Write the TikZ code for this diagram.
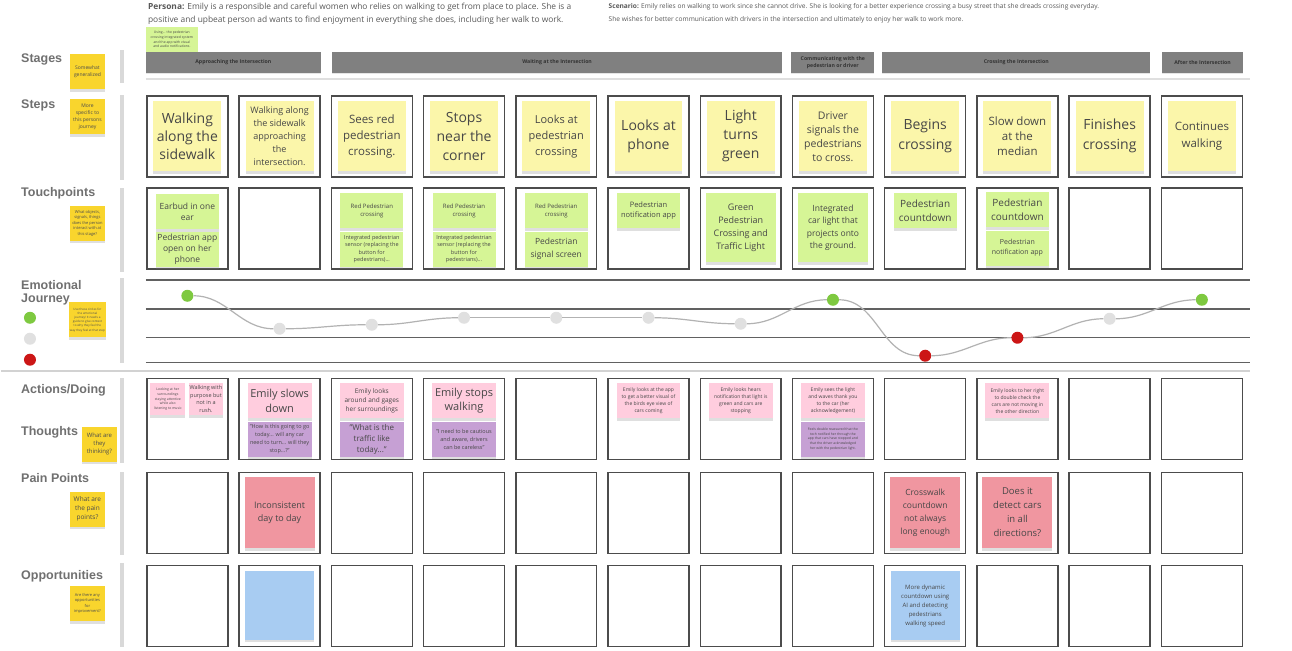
\documentclass[tikz,border=0pt]{standalone}
\usepackage{fontspec}
\setmainfont{Open Sans}
\newfontfamily\lblfont{Liberation Sans}
\usetikzlibrary{positioning,shadows}
\definecolor{stepyel}{RGB}{251,246,170}
\definecolor{tpgreen}{RGB}{214,245,150}
\definecolor{actpink}{RGB}{255,205,222}
\definecolor{thinkvio}{RGB}{198,160,212}
\definecolor{painred}{RGB}{240,150,160}
\definecolor{oppblue}{RGB}{168,204,242}
\definecolor{hintyel}{RGB}{249,213,45}
\definecolor{egreen}{RGB}{126,201,64}
\definecolor{egray}{RGB}{224,224,224}
\definecolor{ered}{RGB}{204,22,22}
\definecolor{lblgray}{RGB}{112,112,112}
\newcommand\fs[2]{\fontsize{#1}{#2}\selectfont}

\begin{document}
\begin{tikzpicture}[x=1pt,y=-1pt,
  cell/.style={draw=black!70,line width=1.5pt,minimum width=81pt,minimum height=81pt,inner sep=0pt},
  note/.style={inner sep=1pt,align=center,text=black!72,
    drop shadow={shadow xshift=0pt,shadow yshift=-2.5pt,opacity=0.25}},
  stepnote/.style={note,fill=stepyel,minimum width=68pt,minimum height=70pt},
  tpnote/.style={note,fill=tpgreen,minimum width=63pt,minimum height=35pt,font=\fs{8.5}{11}},
  tpbig/.style={note,fill=tpgreen,minimum width=70pt,minimum height=69pt,font=\fs{8.5}{12.5}},
  actnote/.style={note,fill=actpink,minimum width=64pt,minimum height=35pt,font=\fs{5}{7}},
  thinknote/.style={note,fill=thinkvio,minimum width=64pt,minimum height=35pt,font=\fs{5.5}{8}},
  painnote/.style={note,fill=painred,minimum width=70pt,minimum height=71pt,font=\fs{9}{13.5}},
  oppnote/.style={note,fill=oppblue,minimum width=69pt,minimum height=69pt,font=\fs{6}{9}},
  hintnote/.style={note,fill=hintyel,text=black!70,minimum width=35pt,minimum height=35pt,font=\fs{5}{7}},
  stagebar/.style={fill=gray,minimum height=21pt,inner sep=0pt,align=center,text=black!80,
    font=\bfseries\fs{5.2}{7},drop shadow={shadow xshift=0pt,shadow yshift=-1.5pt,opacity=0.2}},
  rowlabel/.style={anchor=west,inner sep=0pt,align=left,text=lblgray,font=\lblfont\bfseries\fs{12.5}{13}},
  emo/.style={circle,minimum size=12pt,inner sep=0pt},
  journey/.style={gray!60,line width=1.2pt}]
  \fill[white] (0,0) rectangle (1292,651);

  % persona y escenario
  \node[anchor=north west,inner sep=0pt,align=left,text=black!65,font=\fs{8.4}{13}] (persona) at (147,3)
    {\textbf{Persona:} Emily is a responsible and careful women who relies on walking to get from place to place. She is a\\
     positive and upbeat person ad wants to find enjoyment in everything she does, including her walk to work.};
  \node[anchor=north west,inner sep=0pt,align=left,text=black!65,font=\fs{6.6}{13}] (scenario) at (608,3)
    {\textbf{Scenario:} Emily relies on walking to work since she cannot drive. She is looking for a better experience crossing a busy street that she dreads crossing everyday.\\
     She wishes for better communication with drivers in the intersection and ultimately to enjoy her walk to work more.};

  % barras grises de la izquierda y lineas
  \foreach \a/\b in {50/83,95/180,188/272,278/363,378/463,472/555,563/647}
    \fill[gray!30] (119,\a) rectangle (123,\b);
  \draw[gray!25,line width=2pt] (145,79) -- (1250,79);
  \draw[gray!35,line width=2pt] (0,371) -- (1250,371);

  % etapas
  \node[stagebar,minimum width=175pt] (sg1) at (232.5,62.5) {Approaching the Intersection};
  \node[stagebar,minimum width=451pt] (sg2) at (556.5,62.5) {Waiting at the Intersection};
  \node[stagebar,minimum width=83pt] (sg3) at (832.5,62.5) {Communicating with the\\pedestrian or driver};
  \node[stagebar,minimum width=268pt] (sg4) at (1016,62.5) {Crossing the Intersection};
  \node[stagebar,minimum width=81pt] (sg5) at (1202.5,62.5) {After the Intersection};
  \node[note,fill=tpgreen,minimum width=52pt,minimum height=25pt,font=\fs{3.4}{4.6}] (usage) at (171,39.5)
    {Using... the pedestrian\\crossing integrated system\\and the app with visual\\and audio notifications.};

  % etiquetas de filas
  \node[rowlabel] (lstages) at (20,60) {Stages};
  \node[rowlabel] (lsteps) at (20,106) {Steps};
  \node[rowlabel] (ltouch) at (20,193) {Touchpoints};
  \node[rowlabel,anchor=north west] (lemo) at (20,280) {Emotional\\Journey};
  \node[rowlabel] (lact) at (20,391) {Actions/Doing};
  \node[rowlabel] (lthink) at (20,433) {Thoughts};
  \node[rowlabel] (lpain) at (20,478) {Pain Points};
  \node[rowlabel] (lopp) at (20,577) {Opportunities};
  \node[emo,fill=egreen] (lg1) at (29,318) {};
  \node[emo,fill=egray] (lg2) at (29,339) {};
  \node[emo,fill=ered] (lg3) at (29,360) {};

  \node[hintnote] (h1) at (86.5,72) {Somewhat\\generalized};
  \node[hintnote] (h2) at (86.5,117) {More\\specific to\\this persons\\journey};
  \node[hintnote,font=\fs{4}{5.5}] (h3) at (86.5,223.5) {What objects,\\signals, things\\does the person\\interact with at\\this stage?};
  \node[hintnote,font=\fs{3}{4.2}] (h4) at (86.5,320) {Use these circles for\\the emotional\\journey! It needs a\\guide to give context\\to why they feel the\\way they feel at that step};
  \node[hintnote,font=\fs{6}{8}] (h5) at (98.5,444.5) {What are\\they\\thinking?};
  \node[hintnote,font=\fs{6.5}{9}] (h6) at (86.5,509.5) {What are\\the pain\\points?};
  \node[hintnote,font=\fs{4}{5.5}] (h7) at (86.5,604) {Are there any\\opportunities\\for\\improvement?};

  % celdas
  \foreach \rw/\y in {st/136.5,tp/228.5,ac/419.5,pp/513.5,op/606.5}
    \foreach \c in {1,...,12}
      \node[cell] (\rw\c) at ({186.5+92.3*(\c-1)},\y) {};

  % pasos
  \node[stepnote,font=\fs{14}{18},below=6pt of st1.north] (s1) {Walking\\along the\\sidewalk};
  \node[stepnote,font=\fs{9}{13},below=6pt of st2.north] (s2) {Walking along\\the sidewalk\\approaching\\the\\intersection.};
  \node[stepnote,font=\fs{11.5}{16},below=6pt of st3.north] (s3) {Sees red\\pedestrian\\crossing.};
  \node[stepnote,font=\fs{14}{19},below=6pt of st4.north] (s4) {Stops\\near the\\corner};
  \node[stepnote,font=\fs{11}{16},below=6pt of st5.north] (s5) {Looks at\\pedestrian\\crossing};
  \node[stepnote,font=\fs{14}{19},below=6pt of st6.north] (s6) {Looks at\\phone};
  \node[stepnote,font=\fs{14}{19},below=6pt of st7.north] (s7) {Light\\turns\\green};
  \node[stepnote,font=\fs{10.5}{14},below=6pt of st8.north] (s8) {Driver\\signals the\\pedestrians\\to cross.};
  \node[stepnote,font=\fs{14}{20},below=6pt of st9.north] (s9) {Begins\\crossing};
  \node[stepnote,font=\fs{11.5}{15},below=6pt of st10.north] (s10) {Slow down\\at the\\median};
  \node[stepnote,font=\fs{14}{20},below=6pt of st11.north] (s11) {Finishes\\crossing};
  \node[stepnote,font=\fs{11.5}{17},below=6pt of st12.north] (s12) {Continues\\walking};

  % touchpoints
  \node[tpnote,below=7pt of tp1.north] (t1a) {Earbud in one\\ear};
  \node[tpnote,below=2pt of t1a] (t1b) {Pedestrian app\\open on her\\phone};
  \node[tpnote,font=\fs{6}{8},below=6pt of tp3.north] (t3a) {Red Pedestrian\\crossing};
  \node[tpnote,font=\fs{5.5}{7.5},below=3pt of t3a] (t3b) {Integrated pedestrian\\sensor (replacing the\\button for\\pedestrians)...};
  \node[tpnote,font=\fs{6}{8},below=6pt of tp4.north] (t4a) {Red Pedestrian\\crossing};
  \node[tpnote,font=\fs{5.5}{7.5},below=3pt of t4a] (t4b) {Integrated pedestrian\\sensor (replacing the\\button for\\pedestrians)...};
  \node[tpnote,font=\fs{6}{8},below=6pt of tp5.north] (t5a) {Red Pedestrian\\crossing};
  \node[tpnote,font=\fs{8.5}{13},below=3pt of t5a] (t5b) {Pedestrian\\signal screen};
  \node[tpnote,font=\fs{7.5}{10},below=6pt of tp6.north] (t6) {Pedestrian\\notification app};
  \node[tpbig,font=\fs{9}{13},below=6pt of tp7.north] (t7) {Green\\Pedestrian\\Crossing and\\Traffic Light};
  \node[tpbig,below=6pt of tp8.north] (t8) {Integrated\\car light that\\projects onto\\the ground.};
  \node[tpnote,font=\fs{10}{14},below=6pt of tp9.north] (t9) {Pedestrian\\countdown};
  \node[tpnote,font=\fs{10}{14},below=5pt of tp10.north] (t10a) {Pedestrian\\countdown};
  \node[tpnote,font=\fs{7}{10},below=3pt of t10a] (t10b) {Pedestrian\\notification app};

  % recorrido emocional
  \foreach \y in {280,309,338,363}
    \draw[black!62,line width=1.5pt] (145,\y) -- (1250,\y);
  \foreach \c/\ey/\ec in
    {1/296/egreen,2/329/egray,3/325/egray,4/318/egray,5/318/egray,6/318/egray,
     7/324/egray,8/300/egreen,9/356/ered,10/338/ered,11/319/egray,12/300/egreen}
    \node[emo,fill=\ec] (e\c) at ({186.5+92.3*(\c-1)},\ey) {};
  \foreach \a/\b in {1/2,2/3,3/4,4/5,5/6,6/7,7/8,8/9,9/10,10/11,11/12}
    \draw[journey] (e\a) to[out=0,in=180] (e\b);

  % acciones y pensamientos
  \node[actnote,minimum width=35pt,minimum height=32pt,font=\fs{3.4}{4.8},below right=5pt and 4pt of ac1.north west] (a1a)
    {Looking at her\\surroundings\\staying attentive\\while also\\listening to music};
  \node[actnote,minimum width=34pt,minimum height=32pt,font=\fs{5.5}{7.5},right=3pt of a1a] (a1b)
    {Walking with\\purpose but\\not in a\\rush.};
  \node[actnote,font=\fs{11}{15},below=5pt of ac2.north] (a2a) {Emily slows\\down};
  \node[thinknote,below=3pt of a2a] (a2b) {"How is this going to go\\today... will any car\\need to turn... will they\\stop...?"};
  \node[actnote,font=\fs{6.5}{9},below=5pt of ac3.north] (a3a) {Emily looks\\around and gages\\her surroundings};
  \node[thinknote,font=\fs{8}{11},below=3pt of a3a] (a3b) {"What is the\\traffic like\\today..."};
  \node[actnote,font=\fs{11}{15},below=5pt of ac4.north] (a4a) {Emily stops\\walking};
  \node[thinknote,below=3pt of a4a] (a4b) {"I need to be cautious\\and aware, drivers\\can be careless"};
  \node[actnote,below=5pt of ac6.north] (a6) {Emily looks at the app\\to get a better visual of\\the birds eye view of\\cars coming};
  \node[actnote,below=5pt of ac7.north] (a7) {Emily looks hears\\notification that light is\\green and cars are\\stopping};
  \node[actnote,below=5pt of ac8.north] (a8a) {Emily sees the light\\and waves thank you\\to the car (her\\acknowledgement)};
  \node[thinknote,font=\fs{3.4}{4.8},below=3pt of a8a] (a8b) {Feels double reassured that the\\tech notified her through the\\app that cars have stopped and\\that the driver acknowledged\\her with the pedestrian light.};
  \node[actnote,below=5pt of ac10.north] (a10) {Emily looks to her right\\to double check the\\cars are not moving in\\the other direction};

  % puntos de dolor
  \node[painnote,below=5pt of pp2.north] (p2) {Inconsistent\\day to day};
  \node[painnote,font=\fs{8.5}{13},below=5pt of pp9.north] (p9) {Crosswalk\\countdown\\not always\\long enough};
  \node[painnote,font=\fs{9.5}{14},below=5pt of pp10.north] (p10) {Does it\\detect cars\\in all\\directions?};

  % oportunidades
  \node[oppnote,below=6pt of op2.north] (o2) {};
  \node[oppnote,below=6pt of op9.north] (o9) {More dynamic\\countdown using\\AI and detecting\\pedestrians\\walking speed};
\end{tikzpicture}
\end{document}
